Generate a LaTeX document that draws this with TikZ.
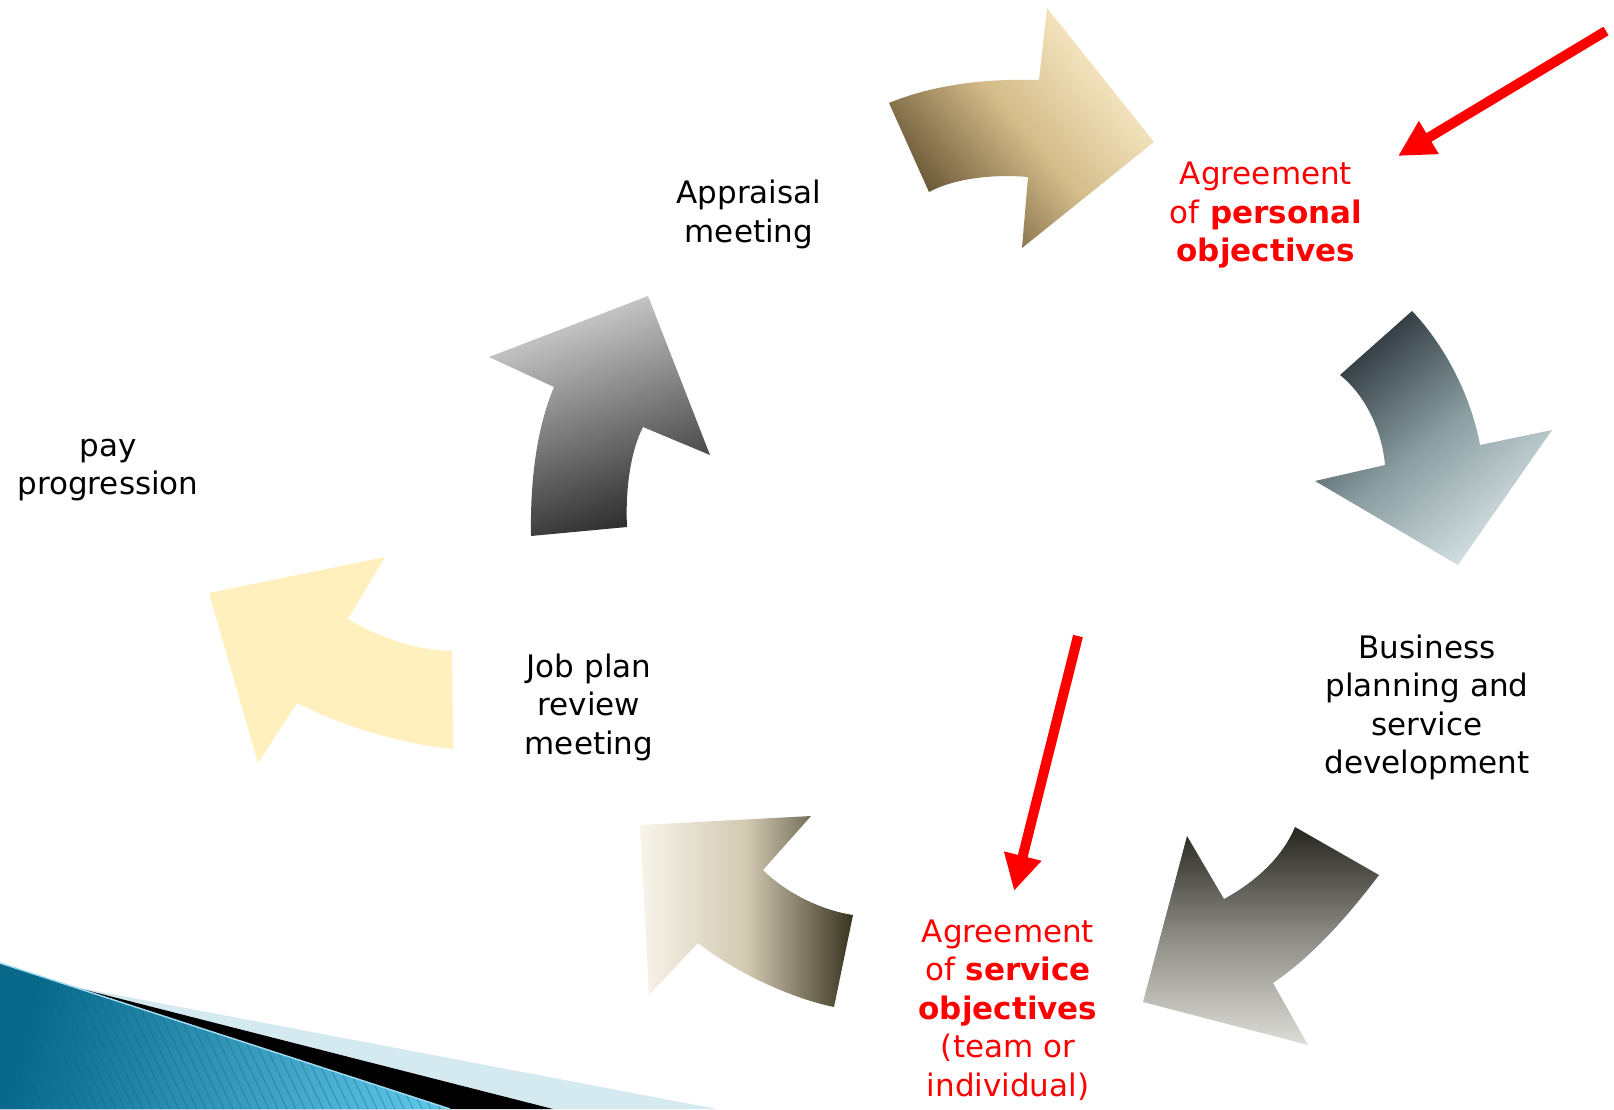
\documentclass[tikz,border=0pt]{standalone}
\usepackage{fontspec}
\setmainfont{DejaVu Sans}
\usetikzlibrary{arrows.meta}

\definecolor{agred}{HTML}{FF0000}
\definecolor{goldDark}{HTML}{5E4C2C}
\definecolor{goldMid}{HTML}{D4BC8A}
\definecolor{goldLight}{HTML}{FCEFCD}
\definecolor{slateDark}{HTML}{2C363C}
\definecolor{slateMid}{HTML}{8A9DA1}
\definecolor{slateLight}{HTML}{D8E4E7}
\definecolor{charDark}{HTML}{26261F}
\definecolor{charMid}{HTML}{8C8C84}
\definecolor{charLight}{HTML}{DEDED8}
\definecolor{creamLight}{HTML}{F8F4EA}
\definecolor{creamMid}{HTML}{D2C9B2}
\definecolor{creamDark}{HTML}{38331F}
\definecolor{butter}{HTML}{FFF0BD}
\definecolor{greyLight}{HTML}{D2D2D2}
\definecolor{greyDark}{HTML}{2A2A2A}
\definecolor{tealDark}{HTML}{08698A}
\definecolor{tealLight}{HTML}{5CC2E4}
\definecolor{paleBlue}{HTML}{D5E9F1}

\begin{document}
\begin{tikzpicture}[x=1pt,y=-1pt,
  lbl/.style={font=\fontsize{31}{38.5}\selectfont, align=center, inner sep=0pt, text=black},
  redlbl/.style={lbl, text=agred},
  pointer/.style={draw=agred, line width=10pt, -{Triangle[length=36pt,width=36pt]}},
  goldarrow/.style={top color=goldLight, bottom color=goldDark, middle color=goldMid, shading angle=-50},
  slatearrow/.style={top color=slateDark, bottom color=slateLight, middle color=slateMid, shading angle=40},
  chararrow/.style={top color=charDark, bottom color=charLight, middle color=charMid, shading angle=0},
  creamarrow/.style={left color=creamLight, right color=creamDark, middle color=creamMid},
  butterarrow/.style={fill=butter},
  greyarrow/.style={top color=greyLight, bottom color=greyDark, shading angle=20}]

\useasboundingbox (0,0) rectangle (1614,1109);

% ---- corner decoration: pale band, black band, striped teal wedge ----
\fill[paleBlue] (70,986) -- (717,1109) -- (0,1109) -- cycle;
\fill[black] (70,986) -- (553,1109) -- (0,1109) -- cycle;
\begin{scope}
  \clip (0,963) -- (450,1109) -- (0,1109) -- cycle;
  \shade[left color=tealDark, right color=tealLight, shading angle=75]
    (0,950) rectangle (460,1109);
  \foreach \s in {-320,-311,...,460}
    \draw[tealDark, opacity=0.35, line width=1.2pt] (\s,950) -- ({\s+76},1109);
\end{scope}
\draw[tealLight!60!white, line width=1.5pt] (0,963) -- (450,1109);

% ---- cycle of curved block arrows ----
% top: towards personal objectives
\path[goldarrow] (889,103) .. controls (925,88) and (975,78) .. (1039,80)
  -- (1047,8) -- (1154,142) -- (1022,248) -- (1028,177)
  .. controls (995,174) and (955,178) .. (929,192) -- cycle;
% right: down towards business planning
\path[slatearrow] (1340,375) -- (1412,311)
  .. controls (1440,340) and (1470,390) .. (1480,445)
  -- (1552,430) -- (1458,565) -- (1315,481) -- (1385,465)
  .. controls (1382,430) and (1365,395) .. cycle;
% lower right: towards service objectives
\path[chararrow] (1295,827) -- (1379,875)
  .. controls (1345,920) and (1310,958) .. (1273,983)
  -- (1308,1045) -- (1143,1002) -- (1187,836) -- (1224,899)
  .. controls (1255,882) and (1282,858) .. cycle;
% bottom: towards job plan review
\path[creamarrow] (853,915) -- (834,1007)
  .. controls (790,998) and (735,972) .. (698,943)
  -- (649,995) -- (640,825) -- (811,816) -- (763,870)
  .. controls (785,892) and (820,910) .. cycle;
% left: towards pay progression
\path[butterarrow] (452,651) -- (453,749)
  .. controls (400,744) and (340,725) .. (297,703)
  -- (258,763) -- (209,593) -- (385,557) -- (348,619)
  .. controls (380,638) and (415,650) .. cycle;
% upper left: towards appraisal
\path[greyarrow] (531,536) -- (627,527)
  .. controls (625,485) and (632,448) .. (643,427)
  -- (710,455) -- (648,296) -- (489,357) -- (554,387)
  .. controls (538,425) and (530,475) .. cycle;

% ---- labels ----
\node[lbl] (appraisal) at (749,214.5) {Appraisal\\meeting};
\node[redlbl] (personal) at (1266,215.5) {Agreement\\of \textbf{personal}\\\textbf{objectives}};
\node[lbl] (pay) at (108,470) {pay\\progression};
\node[lbl] (jobplan) at (589,707) {Job plan\\review\\meeting};
\node[lbl] (business) at (1427,707.5) {Business\\planning and\\service\\development};
\node[redlbl] (service) at (1008,1010) {Agreement\\of \textbf{service}\\\textbf{objectives}\\(team or\\individual)};

% ---- red pointers ----
\coordinate (personalFrom) at (1606,31);
\coordinate (personalTo) at (1398,156);
\coordinate (serviceFrom) at (1078,636);
\coordinate (serviceTo) at (1014,891);
\draw[pointer] (personalFrom) -- (personalTo);
\draw[pointer] (serviceFrom) -- (serviceTo);
\end{tikzpicture}
\end{document}
